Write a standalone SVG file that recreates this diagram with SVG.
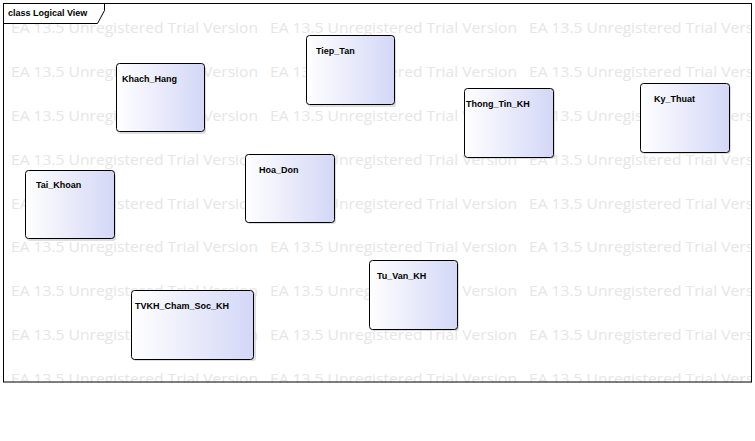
<svg xmlns="http://www.w3.org/2000/svg" width="755" height="441" viewBox="0 0 755 441">
<style>
.wm{font-family:"Open Sans","Liberation Sans",Arial,sans-serif;font-size:15px;fill:#e6e6e6}
.frame{fill:none;stroke:#000;stroke-width:1}
.title{font-family:"Liberation Sans",Arial,sans-serif;font-size:9px;font-weight:bold;fill:#000}
.node rect.b{fill:url(#g);stroke:#000;stroke-width:1}
.node rect.s{fill:#c8c8c8;opacity:0.6}
.lbl{font-family:"Liberation Sans",Arial,sans-serif;font-size:9px;font-weight:bold;fill:#000}
</style>
<defs>
<linearGradient id="g" x1="0" y1="0" x2="1" y2="0">
<stop offset="0" stop-color="#ffffff"/>
<stop offset="1" stop-color="#d3d7f6"/>
</linearGradient>
<clipPath id="fc"><rect x="3" y="3" width="749" height="380"/></clipPath>
</defs>
<rect x="0" y="0" width="755" height="441" fill="#fff"/>
<g id="watermark" clip-path="url(#fc)">
<g class="wm" textLength="247" lengthAdjust="spacingAndGlyphs">
<text x="11" y="33" textLength="247" lengthAdjust="spacingAndGlyphs">EA 13.5 Unregistered Trial Version</text><text x="270" y="33" textLength="247" lengthAdjust="spacingAndGlyphs">EA 13.5 Unregistered Trial Version</text><text x="529" y="33" textLength="247" lengthAdjust="spacingAndGlyphs">EA 13.5 Unregistered Trial Version</text>
<text x="11" y="77" textLength="247" lengthAdjust="spacingAndGlyphs">EA 13.5 Unregistered Trial Version</text><text x="270" y="77" textLength="247" lengthAdjust="spacingAndGlyphs">EA 13.5 Unregistered Trial Version</text><text x="529" y="77" textLength="247" lengthAdjust="spacingAndGlyphs">EA 13.5 Unregistered Trial Version</text>
<text x="11" y="121" textLength="247" lengthAdjust="spacingAndGlyphs">EA 13.5 Unregistered Trial Version</text><text x="270" y="121" textLength="247" lengthAdjust="spacingAndGlyphs">EA 13.5 Unregistered Trial Version</text><text x="529" y="121" textLength="247" lengthAdjust="spacingAndGlyphs">EA 13.5 Unregistered Trial Version</text>
<text x="11" y="165" textLength="247" lengthAdjust="spacingAndGlyphs">EA 13.5 Unregistered Trial Version</text><text x="270" y="165" textLength="247" lengthAdjust="spacingAndGlyphs">EA 13.5 Unregistered Trial Version</text><text x="529" y="165" textLength="247" lengthAdjust="spacingAndGlyphs">EA 13.5 Unregistered Trial Version</text>
<text x="11" y="209" textLength="247" lengthAdjust="spacingAndGlyphs">EA 13.5 Unregistered Trial Version</text><text x="270" y="209" textLength="247" lengthAdjust="spacingAndGlyphs">EA 13.5 Unregistered Trial Version</text><text x="529" y="209" textLength="247" lengthAdjust="spacingAndGlyphs">EA 13.5 Unregistered Trial Version</text>
<text x="11" y="252" textLength="247" lengthAdjust="spacingAndGlyphs">EA 13.5 Unregistered Trial Version</text><text x="270" y="252" textLength="247" lengthAdjust="spacingAndGlyphs">EA 13.5 Unregistered Trial Version</text><text x="529" y="252" textLength="247" lengthAdjust="spacingAndGlyphs">EA 13.5 Unregistered Trial Version</text>
<text x="11" y="296" textLength="247" lengthAdjust="spacingAndGlyphs">EA 13.5 Unregistered Trial Version</text><text x="270" y="296" textLength="247" lengthAdjust="spacingAndGlyphs">EA 13.5 Unregistered Trial Version</text><text x="529" y="296" textLength="247" lengthAdjust="spacingAndGlyphs">EA 13.5 Unregistered Trial Version</text>
<text x="11" y="340" textLength="247" lengthAdjust="spacingAndGlyphs">EA 13.5 Unregistered Trial Version</text><text x="270" y="340" textLength="247" lengthAdjust="spacingAndGlyphs">EA 13.5 Unregistered Trial Version</text><text x="529" y="340" textLength="247" lengthAdjust="spacingAndGlyphs">EA 13.5 Unregistered Trial Version</text>
<text x="11" y="384" textLength="247" lengthAdjust="spacingAndGlyphs">EA 13.5 Unregistered Trial Version</text><text x="270" y="384" textLength="247" lengthAdjust="spacingAndGlyphs">EA 13.5 Unregistered Trial Version</text><text x="529" y="384" textLength="247" lengthAdjust="spacingAndGlyphs">EA 13.5 Unregistered Trial Version</text>
</g>
</g>
<g id="frame">
<rect class="frame" x="3.5" y="3.5" width="748" height="378.5"/>
<path class="frame" d="M3.5,23.5 H97.5 L104.5,10.5 V3.5"/>
<text class="title" x="8" y="15.5">class Logical View</text>
</g>
<g id="connectors"></g>
<g id="Khach_Hang" class="node">
<rect class="s" x="118" y="66" width="88" height="68" rx="3"/>
<rect class="b" x="116.5" y="63.5" width="88" height="68" rx="3"/>
<text class="lbl" x="122" y="82">Khach_Hang</text>
</g>
<g id="Tiep_Tan" class="node">
<rect class="s" x="308" y="38" width="88" height="69" rx="3"/>
<rect class="b" x="306.5" y="35.5" width="88" height="69" rx="3"/>
<text class="lbl" x="316" y="54">Tiep_Tan</text>
</g>
<g id="Thong_Tin_KH" class="node">
<rect class="s" x="466" y="90" width="89" height="69" rx="3"/>
<rect class="b" x="464.5" y="88.5" width="89" height="69" rx="3"/>
<text class="lbl" x="466" y="107">Thong_Tin_KH</text>
</g>
<g id="Ky_Thuat" class="node">
<rect class="s" x="642" y="85" width="89" height="69" rx="3"/>
<rect class="b" x="640.5" y="83.5" width="89" height="69" rx="3"/>
<text class="lbl" x="654" y="102">Ky_Thuat</text>
</g>
<g id="Tai_Khoan" class="node">
<rect class="s" x="27" y="173" width="89" height="68" rx="3"/>
<rect class="b" x="25.5" y="170.5" width="89" height="68" rx="3"/>
<text class="lbl" x="36" y="188">Tai_Khoan</text>
</g>
<g id="Hoa_Don" class="node">
<rect class="s" x="247" y="156" width="89" height="68" rx="3"/>
<rect class="b" x="245.5" y="154.5" width="89" height="68" rx="3"/>
<text class="lbl" x="259" y="173">Hoa_Don</text>
</g>
<g id="TVKH_Cham_Soc_KH" class="node">
<rect class="s" x="133" y="292" width="123" height="69" rx="3"/>
<rect class="b" x="131.5" y="290.5" width="122" height="69" rx="3"/>
<text class="lbl" x="135" y="309">TVKH_Cham_Soc_KH</text>
</g>
<g id="Tu_Van_KH" class="node">
<rect class="s" x="371" y="262" width="88" height="69" rx="3"/>
<rect class="b" x="369.5" y="260.5" width="88" height="69" rx="3"/>
<text class="lbl" x="377" y="279">Tu_Van_KH</text>
</g>
</svg>
